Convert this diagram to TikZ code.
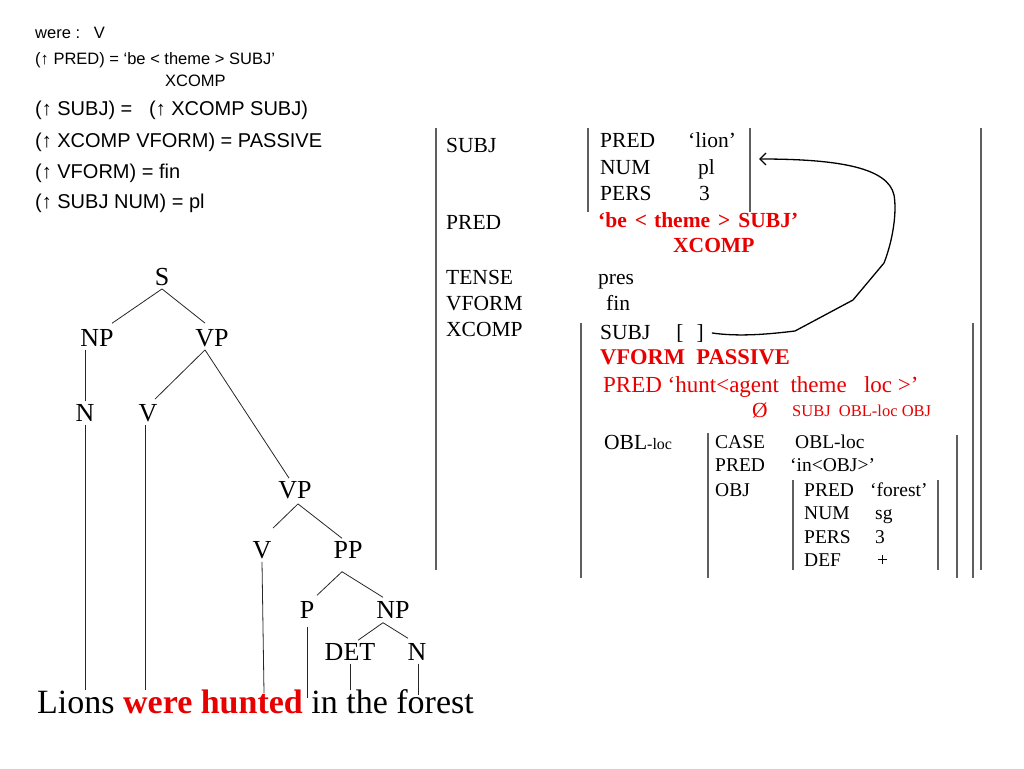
\documentclass[tikz,border=0pt]{standalone}
\usepackage{fontspec}
\setmainfont{Liberation Serif}
\newfontfamily\lsans{Liberation Sans}
\usetikzlibrary{calc,arrows.meta}
\definecolor{rd}{RGB}{232,0,0}
\definecolor{brk}{RGB}{95,95,95}
\begin{document}
\begin{tikzpicture}[x=1pt,y=-1pt,
  lsm/.style={anchor=base west,inner sep=0,font=\lsans\fontsize{16.5}{18}\selectfont},
  lbg/.style={anchor=base west,inner sep=0,font=\lsans\fontsize{20}{22}\selectfont},
  fs/.style={anchor=base west,inner sep=0,font=\fontsize{21.5}{24}\selectfont},
  fsm/.style={anchor=base west,inner sep=0,font=\fontsize{19.5}{22}\selectfont},
  fsx/.style={anchor=base west,inner sep=0,font=\fontsize{16.5}{18}\selectfont},
  hl/.style={text=rd},
  hlb/.style={text=rd,font=\fontsize{21.5}{24}\selectfont\bfseries},
  tr/.style={inner sep=3pt,font=\fontsize{26}{28}\selectfont},
  tl/.style={draw=black!85,line width=0.8pt},
  brack/.style={draw=brk,line width=1.1pt},
  conn/.style={draw=black,line width=1.3pt,-{Straight Barb[length=6pt,width=12pt]}}]
\useasboundingbox (0,0) rectangle (1024,768);

% left panel
\node[lsm] (l1) at (35,38) {were :\ \ \ V};
\node[lsm] (l2) at (35,64) {(↑ PRED) = ‘be < theme > SUBJ’};
\node[lsm] (l3) at (165,86) {XCOMP};
\node[lbg] (l4) at (35,115) {(↑ SUBJ) = \ \ (↑ XCOMP SUBJ)};
\node[lbg] (l5) at (35,147) {(↑ XCOMP VFORM) = PASSIVE};
\node[lbg] (l6) at (35,178) {(↑ VFORM) = fin};
\node[lbg] (l7) at (35,208) {(↑ SUBJ NUM) = pl};

% tree
\node[tr] (S) at (162,277) {S};
\node[tr] (NP) at (97,338) {NP};
\node[tr] (VP) at (212,338) {VP};
\node[tr] (N1) at (85,413) {N};
\node[tr] (V1) at (148,413) {V};
\node[tr] (VP2) at (295,490) {VP};
\node[tr] (V2) at (262,550) {V};
\node[tr] (PP) at (348,550) {PP};
\node[tr] (P) at (307,610) {P};
\node[tr] (NP2) at (393,610) {NP};
\node[tr] (DET) at (350,652) {DET};
\node[tr] (N2) at (417,652) {N};
\node[anchor=base west,inner sep=0,font=\fontsize{34}{36}\selectfont] (sent) at (37,713)
  {Lions {\bfseries\color{rd}were hunted} in the forest};

\draw[tl] (S.south) -- ($(NP.north)+(15,-3)$);
\draw[tl] (S.south) -- ($(VP.north)+(-7,-3)$);
\draw[tl] (NP.south -| N1.north) -- (N1.north);
\draw[tl] ($(VP.south)+(-7,0)$) -- ($(V1.north)+(7,-2)$);
\draw[tl] ($(VP.south)+(-7,0)$) -- ($(VP2.north)+(-6,0)$);
\draw[tl] ($(VP2.south)+(3,2)$) -- ($(V2.north)+(11,-10)$);
\draw[tl] ($(VP2.south)+(3,2)$) -- ($(PP.north)+(-6,0)$);
\draw[tl] ($(PP.south)+(-6,10)$) -- ($(P.north)+(10,-3)$);
\draw[tl] ($(PP.south)+(-6,10)$) -- ($(NP2.north)+(-10,-1)$);
\draw[tl] ($(NP2.south)+(-10,1)$) -- ($(DET.north)+(8,0)$);
\draw[tl] ($(NP2.south)+(-10,1)$) -- ($(N2.north)+(-9,-2)$);

\coordinate (eN1) at (85,690);
\coordinate (eV1) at (145,690);
\coordinate (eV2) at (264,693);
\coordinate (eP) at (307,698);
\coordinate (eDET) at (350,690);
\coordinate (eN2) at (418,695);
\draw[tl] (N1.south) -- (eN1);
\draw[tl] ($(V1.south)+(-3,0)$) -- (eV1);
\draw[tl] (V2.south) -- (eV2);
\draw[tl] ($(P.south)+(0,5)$) -- (eP);
\draw[tl] (DET.south) -- (eDET);
\draw[tl] ($(N2.south)+(1,0)$) -- (eN2);

% f-structure, outer
\node[fs] (fSUBJ) at (446,152) {SUBJ};
\node[fs] (fPRED) at (446,229) {PRED};
\node[fs] (fTENSE) at (446,284) {TENSE};
\node[fs] (fVFORM) at (446,310) {VFORM};
\node[fs] (fXCOMP) at (446,336) {XCOMP};

\node[fs] (sPRED) at (600,147) {PRED};
\node[fs] (sLion) at (688,147) {‘lion’};
\node[fs] (sNUM) at (600,174) {NUM};
\node[fs] (sPl) at (698,174) {pl};
\node[fs] (sPERS) at (600,200) {PERS};
\node[fs] (s3) at (699,200) {3};

\node[fs,hlb] (bePred) at (598,227) {‘be\hspace{8pt}<\hspace{7pt}theme\hspace{8pt}>\hspace{8pt}SUBJ’};
\node[fs,hlb] (beX) at (673,252) {XCOMP};
\node[fs] (vPres) at (598,284) {pres};
\node[fs] (vFin) at (606,310) {fin};

% xcomp
\node[fs] (xSUBJ) at (600,339) {SUBJ\hspace{26pt}[\hspace{13pt}]};
\node[fs,hlb,font=\fontsize{22.5}{24}\selectfont\bfseries] (xVF) at (600,364) {VFORM\ \ PASSIVE};
\node[fs,hl,font=\fontsize{23}{25}\selectfont] (xPRED) at (603,392) {PRED ‘hunt<agent\ \ theme\ \ \ loc >’};
\node[fs,hl] (xNull) at (752,417) {Ø};
\node[fsx,hl] (xFns) at (792,416) {SUBJ\ \ OBL-loc OBJ};
\node[fs] (xOBL) at (604,449) {OBL{\fontsize{16}{18}\selectfont -loc}};

\node[fsm] (oCASE) at (715,448) {CASE};
\node[fsm] (oCaseV) at (795,448) {OBL-loc};
\node[fsm] (oPRED) at (715,471) {PRED};
\node[fsm] (oPredV) at (790,471) {‘in<OBJ>’};
\node[fsm] (oOBJ) at (715,496) {OBJ};

\node[fsm] (jPRED) at (804,496) {PRED};
\node[fsm] (jPredV) at (870,496) {‘forest’};
\node[fsm] (jNUM) at (804,519) {NUM};
\node[fsm] (jNumV) at (875,519) {sg};
\node[fsm] (jPERS) at (804,543) {PERS};
\node[fsm] (jPersV) at (875,543) {3};
\node[fsm] (jDEF) at (804,566) {DEF};
\node[fsm] (jDefV) at (877,566) {+};

% brackets
\draw[brack] (436,128) -- (436,570);
\draw[brack] (981,128) -- (981,570);
\draw[brack] (588,128) -- (588,212);
\draw[brack] (750,128) -- (750,212);
\draw[brack] (581,323) -- (581,578);
\draw[brack] (973,323) -- (973,578);
\draw[brack] (708,433) -- (708,578);
\draw[brack] (957,435) -- (957,578);
\draw[brack] (793,480) -- (793,570);
\draw[brack] (938,480) -- (938,570);

% structure-sharing arrow
\coordinate (tipS) at (759,159);
\draw[conn] ($(xSUBJ.east)+(8,0)$) .. controls (740,337) and (770,334) .. (795,331)
  -- (853,300) -- (884,263) .. controls (893,240) and (897,212) .. (894,195)
  .. controls (888,168) and (840,159) .. (tipS);
\end{tikzpicture}
\end{document}
